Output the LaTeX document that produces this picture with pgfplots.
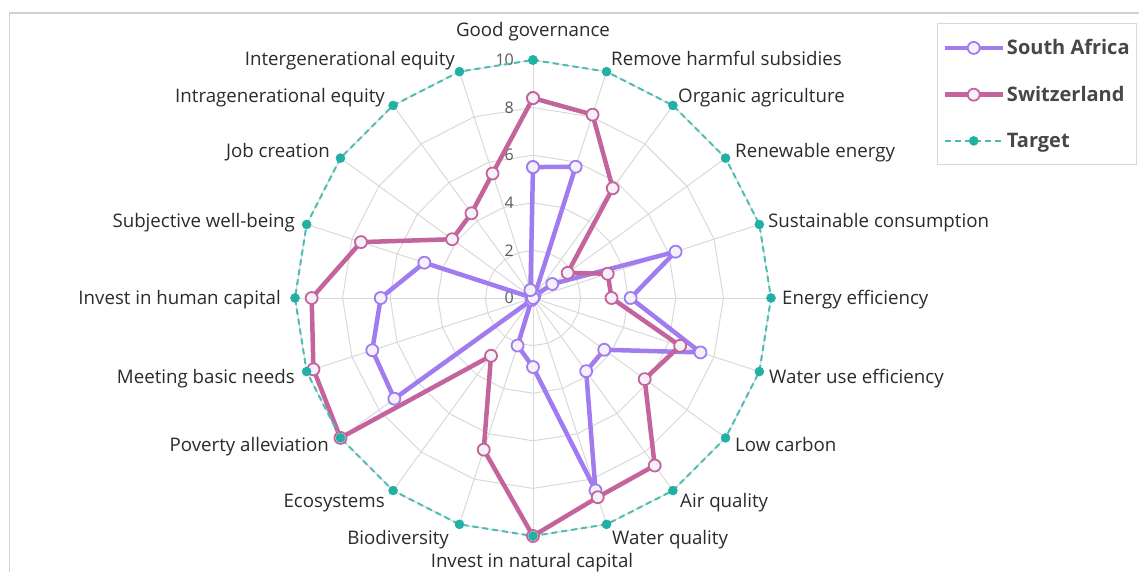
\documentclass[border=0pt]{standalone}
\usepackage{pgfplots}
\pgfplotsset{compat=1.18}
\usepgfplotslibrary{polar}
\usepackage{pgfplotstable}
\usepackage{fontspec}
\setmainfont{Open Sans}
\definecolor{sa}{HTML}{A07CF0}
\definecolor{ch}{HTML}{C4649C}
\definecolor{tg}{HTML}{22AFA4}
\definecolor{tgl}{HTML}{4DBDB3}
\definecolor{gridc}{HTML}{D9D9D9}
\definecolor{mfill}{HTML}{F5F1FB}
\definecolor{txt}{HTML}{2B2B2B}
\definecolor{ticktxt}{HTML}{595959}

% angle (deg, counter-clockwise from east), South Africa, Switzerland, Target
\pgfplotstableread{
a   sa   ch   tg
90  5.5  8.4  10
72  5.8  8.1  10
54  0.1  5.7  10
36  1.0  1.8  10
18  6.3  3.3  10
0   4.1  3.3  10
342 7.4  6.5  10
324 3.7  5.8  10
306 3.8  8.7  10
288 8.5  8.8  10
270 2.9  10   10
252 2.1  6.7  10
234 0.1  3.0  10
216 7.2  10   10
198 7.1  9.7  10
180 6.4  9.3  10
162 4.8  7.6  10
144 0.0  4.2  10
126 0.0  4.4  10
108 0.35 5.5  10
90  5.5  8.4  10
}\data

\newcommand\labfont{\fontsize{18.7}{22}\selectfont}
\newcommand\lab[4]{\node[anchor=#3, inner sep=0pt, font=\labfont, text=txt] at (#1,{565-#2}) {#4};}

\begin{document}
\begin{tikzpicture}
\path[use as bounding box] (0,0) rectangle (1139pt,571pt);
\clip (0,0) rectangle (1139pt,571pt);
\draw[black!18, line width=1.2pt] (9.5pt,-20pt) rectangle (1200pt,558pt);
\begin{polaraxis}[
  at={(533pt,273pt)}, anchor=center,
  width=476pt, height=476pt, scale only axis,
  xmin=0, xmax=360, ymin=0, ymax=10,
  hide axis,
  clip=false,
  legend style={at={(1.3487,1.0777)}, anchor=north west, draw=black!15, line width=1pt,
    fill=white, font=\fontsize{20}{24}\selectfont\bfseries, text=black!72,
    row sep=26pt, inner xsep=5pt, inner ysep=14pt, legend cell align=left},
  legend image code/.code={
    \draw[mark repeat=2,mark phase=2,#1] plot coordinates {(0pt,0pt) (29pt,0pt) (58pt,0pt)};
  },
]
\pgfplotsinvokeforeach{2,4,6,8,10}{
  \draw[gridc, line width=1pt] (axis cs:0,#1) \foreach \ang in {18,36,...,342}{ -- (axis cs:\ang,#1)} -- cycle;
}
\pgfplotsinvokeforeach{0,18,...,342}{
  \draw[gridc, line width=1pt] (axis cs:0,0) -- (axis cs:#1,10);
}
\pgfplotsinvokeforeach{0,2,...,10}{
  \node[anchor=east, inner sep=0pt, xshift=-19pt, text=ticktxt, font=\fontsize{16}{18}\selectfont] at (axis cs:90,#1) {#1};
}
\addplot[sa, line width=4.5pt, line join=round, mark=*, mark size=6pt,
  mark options={fill=mfill, draw=sa, line width=1.8pt}] table[x=a, y=sa]{\data};
\addlegendentry{South Africa}
\addplot[ch, line width=4.5pt, line join=round, mark=*, mark size=6pt,
  mark options={fill=mfill, draw=ch, line width=1.8pt}] table[x=a, y=ch]{\data};
\addlegendentry{Switzerland}
\addplot[tgl, line width=2pt, dash pattern=on 6pt off 4pt, mark=*, mark size=4.5pt,
  mark options={solid, fill=tg, draw=tg, line width=0.5pt}] table[x=a, y=tg]{\data};
\addlegendentry{Target}
\end{polaraxis}
\begin{scope}[x=1pt, y=1pt]
\lab{533}{31}{base}{Good governance}
\lab{611}{60}{base west}{Remove harmful subsidies}
\lab{678}{97}{base west}{Organic agriculture}
\lab{735}{152}{base west}{Renewable energy}
\lab{768}{221}{base west}{Sustainable consumption}
\lab{782}{298}{base west}{Energy efficiency}
\lab{769}{377}{base west}{Water use efficiency}
\lab{735}{445}{base west}{Low carbon}
\lab{680}{501}{base west}{Air quality}
\lab{612}{538}{base west}{Water quality}
\lab{532}{561}{base}{Invest in natural capital}
\lab{449}{538}{base east}{Biodiversity}
\lab{385}{501}{base east}{Ecosystems}
\lab{329}{445}{base east}{Poverty alleviation}
\lab{295}{377}{base east}{Meeting basic needs}
\lab{281}{298}{base east}{Invest in human capital}
\lab{295}{221}{base east}{Subjective well-being}
\lab{330}{152}{base east}{Job creation}
\lab{385}{97}{base east}{Intragenerational equity}
\lab{455}{60}{base east}{Intergenerational equity}
\end{scope}
\end{tikzpicture}
\end{document}
